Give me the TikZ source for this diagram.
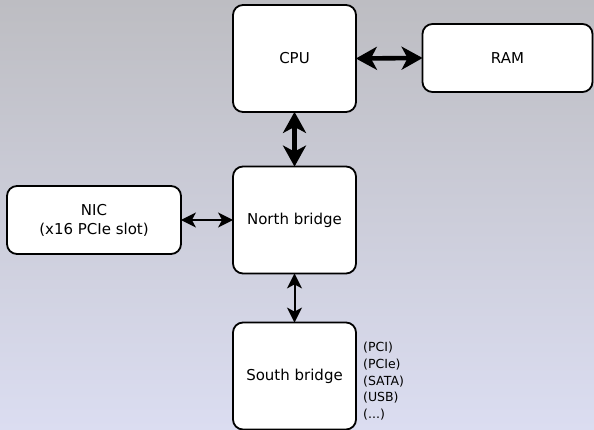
\documentclass[tikz,border=0pt]{standalone}
\usepackage{fontspec}
\setmainfont{DejaVu Sans}
\usetikzlibrary{arrows.meta}
\definecolor{bgtop}{RGB}{189,189,194}
\definecolor{bgbot}{RGB}{219,221,241}
\tikzset{
  blk/.style={draw=black, line width=1.8pt, fill=white, rounded corners=10pt, inner sep=0pt, font=\fontsize{15}{19}\selectfont, align=center},
  fat/.style={line width=4.6pt, {Stealth[length=21pt,width=23pt,inset=6pt]}-{Stealth[length=21pt,width=23pt,inset=6pt]}, shorten <=-1pt, shorten >=-1pt},
  thin/.style={line width=2pt, {Stealth[length=15pt,width=15pt,inset=4pt]}-{Stealth[length=15pt,width=15pt,inset=4pt]}, shorten <=-1pt, shorten >=-1pt},
}
\begin{document}
\begin{tikzpicture}[x=1pt,y=-1pt]
\useasboundingbox (0,0) rectangle (594,430);
\shade[top color=bgtop, bottom color=bgbot] (0,0) rectangle (594,430);
\node[blk, minimum width=123pt, minimum height=107pt] (cpu) at (294.5,58.5) {CPU};
\node[blk, minimum width=170pt, minimum height=68pt] (ram) at (507.5,58) {RAM};
\node[blk, minimum width=123pt, minimum height=107pt] (nb) at (294.5,220) {North bridge};
\node[blk, minimum width=174pt, minimum height=68pt] (nic) at (94,220) {NIC\\(x16 PCIe slot)};
\node[blk, minimum width=123pt, minimum height=107pt] (sb) at (294.5,376) {South bridge};
\node[anchor=north west, inner sep=0pt, align=left, font=\fontsize{12.5}{16.7}\selectfont] (lst) at (363,342) {(PCI)\\(PCIe)\\(SATA)\\(USB)\\(...)};
\draw[fat] (cpu.east) -- (ram.west);
\draw[fat] (cpu.south) -- (nb.north);
\draw[thin] (nic.east) -- (nb.west);
\draw[thin] (nb.south) -- (sb.north);
\end{tikzpicture}
\end{document}
